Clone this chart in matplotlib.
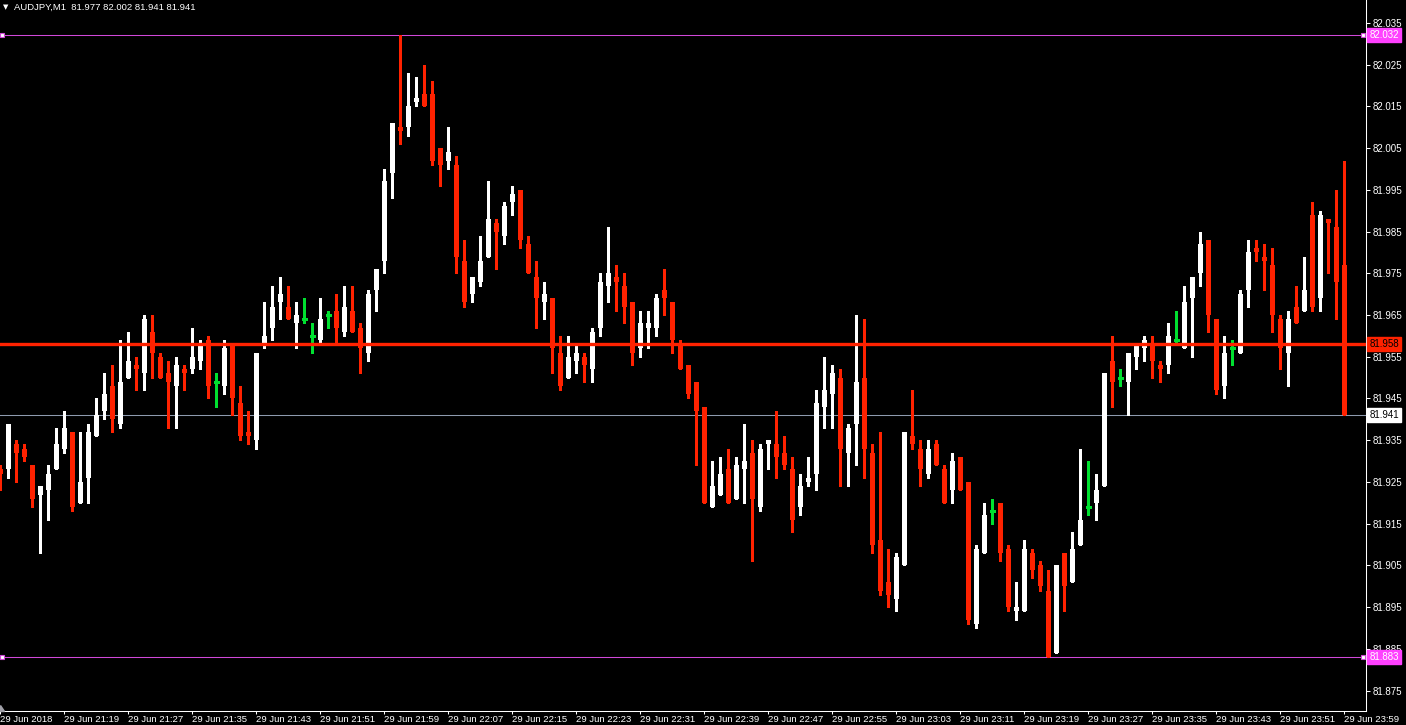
import matplotlib
matplotlib.use('Agg')
import matplotlib.pyplot as plt
import matplotlib.transforms as mtransforms
from matplotlib.patches import Polygon
import numpy as np

# ---------------- data ----------------
header_text = "AUDJPY,M1  81.977 82.002 81.941 81.941"

opens = [81.928, 81.928, 81.934, 81.933, 81.929, 81.922, 81.923, 81.928, 81.933, 81.937,
         81.920, 81.926, 81.936, 81.942, 81.948, 81.939, 81.950, 81.953, 81.951, 81.961,
         81.955, 81.951, 81.948, 81.952, 81.952, 81.954, 81.959, 81.949, 81.948, 81.958,
         81.944, 81.937, 81.935, 81.958, 81.962, 81.968, 81.967, 81.963, 81.964, 81.960,
         81.959, 81.965, 81.966, 81.961, 81.966, 81.962, 81.956, 81.971, 81.978, 81.999,
         82.010, 82.010, 82.016, 82.018, 82.018, 82.005, 82.002, 82.001, 81.978, 81.970,
         81.973, 81.979, 81.987, 81.984, 81.992, 81.995, 81.982, 81.974, 81.968, 81.969,
         81.956, 81.950, 81.954, 81.955, 81.952, 81.962, 81.972, 81.974, 81.972, 81.968,
         81.957, 81.962, 81.962, 81.971, 81.968, 81.958, 81.953, 81.949, 81.943, 81.919,
         81.922, 81.928, 81.921, 81.928, 81.932, 81.919, 81.934, 81.934, 81.932, 81.928,
         81.919, 81.925, 81.927, 81.943, 81.946, 81.950, 81.932, 81.939, 81.950, 81.932,
         81.911, 81.901, 81.897, 81.905, 81.936, 81.933, 81.927, 81.934, 81.928, 81.923,
         81.931, 81.925, 81.891, 81.908, 81.918, 81.920, 81.909, 81.894, 81.894, 81.908,
         81.905, 81.899, 81.884, 81.908, 81.901, 81.910, 81.919, 81.920, 81.924, 81.954,
         81.950, 81.949, 81.955, 81.957, 81.958, 81.953, 81.953, 81.959, 81.957, 81.969,
         81.975, 81.983, 81.964, 81.948, 81.957, 81.956, 81.971, 81.981, 81.979, 81.977,
         81.964, 81.956, 81.967, 81.966, 81.989, 81.969, 81.988, 81.986, 81.977]
highs = [81.929, 81.939, 81.935, 81.934, 81.929, 81.924, 81.929, 81.938, 81.942, 81.937,
         81.937, 81.939, 81.945, 81.951, 81.953, 81.959, 81.961, 81.955, 81.965, 81.965,
         81.956, 81.954, 81.955, 81.953, 81.962, 81.959, 81.960, 81.951, 81.959, 81.958,
         81.948, 81.942, 81.956, 81.968, 81.972, 81.974, 81.972, 81.968, 81.969, 81.963,
         81.969, 81.966, 81.970, 81.972, 81.972, 81.963, 81.971, 81.976, 82.000, 82.011,
         82.032, 82.023, 82.022, 82.025, 82.021, 82.005, 82.010, 82.003, 81.983, 81.974,
         81.984, 81.997, 81.988, 81.992, 81.996, 81.995, 81.984, 81.978, 81.973, 81.969,
         81.960, 81.960, 81.958, 81.956, 81.962, 81.975, 81.986, 81.977, 81.975, 81.968,
         81.966, 81.966, 81.970, 81.976, 81.968, 81.959, 81.953, 81.949, 81.943, 81.930,
         81.931, 81.933, 81.931, 81.939, 81.935, 81.934, 81.935, 81.942, 81.936, 81.931,
         81.927, 81.931, 81.947, 81.955, 81.953, 81.952, 81.939, 81.965, 81.964, 81.934,
         81.937, 81.909, 81.908, 81.937, 81.947, 81.935, 81.935, 81.935, 81.929, 81.932,
         81.931, 81.925, 81.910, 81.920, 81.921, 81.920, 81.910, 81.901, 81.911, 81.909,
         81.906, 81.904, 81.905, 81.908, 81.913, 81.933, 81.930, 81.927, 81.951, 81.960,
         81.952, 81.956, 81.958, 81.960, 81.960, 81.954, 81.963, 81.966, 81.972, 81.974,
         81.985, 81.983, 81.964, 81.960, 81.959, 81.971, 81.983, 81.983, 81.982, 81.981,
         81.965, 81.966, 81.972, 81.979, 81.992, 81.990, 81.988, 81.995, 82.002]
lows = [81.923, 81.926, 81.925, 81.930, 81.919, 81.908, 81.916, 81.928, 81.932, 81.918,
        81.920, 81.920, 81.936, 81.940, 81.937, 81.938, 81.950, 81.947, 81.947, 81.950,
        81.950, 81.938, 81.938, 81.947, 81.951, 81.952, 81.945, 81.943, 81.946, 81.941,
        81.935, 81.934, 81.933, 81.957, 81.959, 81.964, 81.964, 81.957, 81.963, 81.956,
        81.958, 81.962, 81.958, 81.960, 81.961, 81.951, 81.954, 81.966, 81.975, 81.993,
        82.006, 82.008, 82.015, 82.015, 82.001, 81.996, 82.000, 81.975, 81.967, 81.968,
        81.972, 81.979, 81.976, 81.982, 81.989, 81.981, 81.975, 81.962, 81.964, 81.951,
        81.947, 81.950, 81.951, 81.949, 81.949, 81.960, 81.968, 81.966, 81.963, 81.953,
        81.955, 81.957, 81.960, 81.965, 81.956, 81.952, 81.945, 81.929, 81.920, 81.919,
        81.922, 81.920, 81.921, 81.920, 81.906, 81.918, 81.928, 81.926, 81.928, 81.913,
        81.917, 81.924, 81.923, 81.938, 81.938, 81.924, 81.924, 81.929, 81.926, 81.908,
        81.898, 81.895, 81.894, 81.905, 81.933, 81.924, 81.926, 81.929, 81.920, 81.920,
        81.923, 81.891, 81.890, 81.908, 81.915, 81.906, 81.894, 81.892, 81.894, 81.902,
        81.899, 81.883, 81.884, 81.894, 81.901, 81.910, 81.917, 81.916, 81.924, 81.943,
        81.948, 81.941, 81.952, 81.954, 81.950, 81.949, 81.951, 81.958, 81.957, 81.955,
        81.972, 81.961, 81.946, 81.945, 81.953, 81.956, 81.967, 81.978, 81.971, 81.961,
        81.952, 81.948, 81.963, 81.966, 81.966, 81.966, 81.975, 81.964, 81.941]
closes = [81.927, 81.939, 81.932, 81.931, 81.921, 81.924, 81.927, 81.934, 81.938, 81.919,
          81.925, 81.937, 81.941, 81.946, 81.940, 81.949, 81.954, 81.952, 81.964, 81.956,
          81.950, 81.949, 81.953, 81.951, 81.955, 81.958, 81.948, 81.949, 81.957, 81.945,
          81.936, 81.936, 81.956, 81.960, 81.967, 81.970, 81.964, 81.965, 81.964, 81.960,
          81.964, 81.965, 81.962, 81.967, 81.961, 81.957, 81.970, 81.976, 81.997, 82.011,
          82.009, 82.015, 82.017, 82.015, 82.002, 82.001, 82.004, 81.979, 81.968, 81.974,
          81.978, 81.988, 81.985, 81.991, 81.994, 81.983, 81.975, 81.969, 81.970, 81.957,
          81.948, 81.955, 81.956, 81.953, 81.961, 81.973, 81.975, 81.973, 81.967, 81.956,
          81.963, 81.963, 81.969, 81.969, 81.959, 81.952, 81.946, 81.942, 81.920, 81.924,
          81.927, 81.920, 81.929, 81.930, 81.921, 81.933, 81.935, 81.931, 81.929, 81.916,
          81.924, 81.926, 81.944, 81.947, 81.951, 81.933, 81.938, 81.949, 81.933, 81.910,
          81.899, 81.898, 81.907, 81.937, 81.934, 81.928, 81.933, 81.929, 81.920, 81.930,
          81.923, 81.892, 81.909, 81.917, 81.918, 81.908, 81.895, 81.895, 81.909, 81.904,
          81.900, 81.883, 81.905, 81.900, 81.909, 81.916, 81.919, 81.923, 81.951, 81.949,
          81.950, 81.956, 81.958, 81.959, 81.954, 81.952, 81.960, 81.959, 81.968, 81.974,
          81.982, 81.965, 81.947, 81.956, 81.957, 81.970, 81.980, 81.980, 81.978, 81.965,
          81.957, 81.964, 81.963, 81.971, 81.967, 81.989, 81.987, 81.973, 81.941]

time_labels = ["29 Jun 2018", "29 Jun 21:19", "29 Jun 21:27", "29 Jun 21:35", "29 Jun 21:43",
               "29 Jun 21:51", "29 Jun 21:59", "29 Jun 22:07", "29 Jun 22:15", "29 Jun 22:23",
               "29 Jun 22:31", "29 Jun 22:39", "29 Jun 22:47", "29 Jun 22:55", "29 Jun 23:03",
               "29 Jun 23:11", "29 Jun 23:19", "29 Jun 23:27", "29 Jun 23:35", "29 Jun 23:43",
               "29 Jun 23:51", "29 Jun 23:59"]
label_step = 8

price_ticks = [82.035, 82.025, 82.015, 82.005, 81.995, 81.985, 81.975, 81.965, 81.955,
               81.945, 81.935, 81.925, 81.915, 81.905, 81.895, 81.885, 81.875]

level_red = 81.958
level_bid = 81.941
level_high = 82.032
level_low = 81.883

# ---------------- style ----------------
plt.rcParams['font.family'] = ['Liberation Sans', 'DejaVu Sans']
BULL = '#ffffff'
BEAR = '#ff2200'
DOJI = '#00e030'
MAGENTA = '#d048d8'
BIDCOL = '#8e9aae'
FS = 7
FSX = 6.8

W, H = 1406, 725
fig = plt.figure(figsize=(W / 100, H / 100), dpi=100, facecolor='black')
ax = fig.add_axes([0, 14 / H, 1366 / W, 711 / H])
ax.set_facecolor('black')

o = np.array(opens); h = np.array(highs); l = np.array(lows); c = np.array(closes)
x = np.arange(len(o))
bull = c > o
bear = c < o
doji = c == o
bw = 0.7

# horizontal levels (behind candles)
ax.axhline(level_bid, color=BIDCOL, lw=0.75, zorder=1)
ax.axhline(level_high, color=MAGENTA, lw=0.75, zorder=1)
ax.axhline(level_low, color=MAGENTA, lw=0.75, zorder=1)

# wicks
ax.vlines(x[bull], l[bull], h[bull], color=BULL, lw=0.75, antialiased=False, zorder=2)
ax.vlines(x[bear], l[bear], h[bear], color=BEAR, lw=0.75, antialiased=False, zorder=2)
ax.vlines(x[doji], l[doji], h[doji], color=DOJI, lw=0.75, antialiased=False, zorder=2)
ax.hlines(c[doji], x[doji] - 0.3125, x[doji] + 0.3125, color=DOJI, lw=0.75,
          antialiased=False, zorder=2)

# bodies
ax.bar(x[bull], c[bull] - o[bull], bottom=o[bull], width=bw, color=BULL,
       linewidth=0, antialiased=False, zorder=3)
ax.bar(x[bear], o[bear] - c[bear], bottom=c[bear], width=bw, color=BEAR,
       linewidth=0, antialiased=False, zorder=3)

# thick red user line on top
ax.axhline(level_red, color=BEAR, lw=2.4, zorder=4)

# small end markers on magenta lines
blend = mtransforms.blended_transform_factory(ax.transAxes, ax.transData)
for lv in (level_high, level_low):
    ax.plot([0.0015, 0.998], [lv, lv], transform=blend, ls='none', marker='s', ms=3,
            mfc='white', mec=MAGENTA, mew=0.8, zorder=5, clip_on=False)

ax.set_xlim(-0.04, 170.71)
ax.set_ylim(81.87014, 82.04046)

# spines
for s in ('left', 'top'):
    ax.spines[s].set_visible(False)
for s in ('right', 'bottom'):
    ax.spines[s].set_color('white')
    ax.spines[s].set_linewidth(0.75)

# y axis on right
ax.yaxis.tick_right()
ax.set_yticks(price_ticks)
ax.set_yticklabels([f"{p:.3f}" for p in price_ticks])
ax.tick_params(axis='y', colors='white', length=3, width=0.75, pad=2, labelsize=FS)

# x axis
ax.set_xticks(x[::label_step])
ax.set_xticklabels(time_labels, ha='left')
ax.tick_params(axis='x', colors='white', length=2.2, width=0.75, pad=1, labelsize=FSX)

# price labels for levels
lab_tr = mtransforms.offset_copy(blend, fig=fig, x=2.4, y=0, units='points')
def price_label(val, bg, fg):
    ax.text(1.0, val, f"{val:.3f}", transform=lab_tr, ha='left', va='center',
            fontsize=FS, color=fg, clip_on=False, zorder=10,
            bbox=dict(boxstyle='square,pad=0.22', facecolor=bg, edgecolor=bg))

price_label(level_high, '#ff40ff', '#ffffff')
price_label(level_low, '#ff40ff', '#ffffff')
price_label(level_red, BEAR, '#000000')
price_label(level_bid, '#ffffff', '#000000')

# header
fig.text(3 / W, 1 - 7 / H, '\u25bc', color='white', fontsize=5, ha='left', va='center',
         family='DejaVu Sans')
fig.text(14 / W, 1 - 7 / H, header_text, color='white', fontsize=FSX, ha='left', va='center')

# small scroll marker bottom-left
ax.add_patch(Polygon([[0, 6 / 711], [0, 0], [4 / 1366, 0]], closed=True,
                     transform=ax.transAxes, color='#a0a0a8', clip_on=False, zorder=6))

fig.savefig('out.png', dpi=100, facecolor='black')
